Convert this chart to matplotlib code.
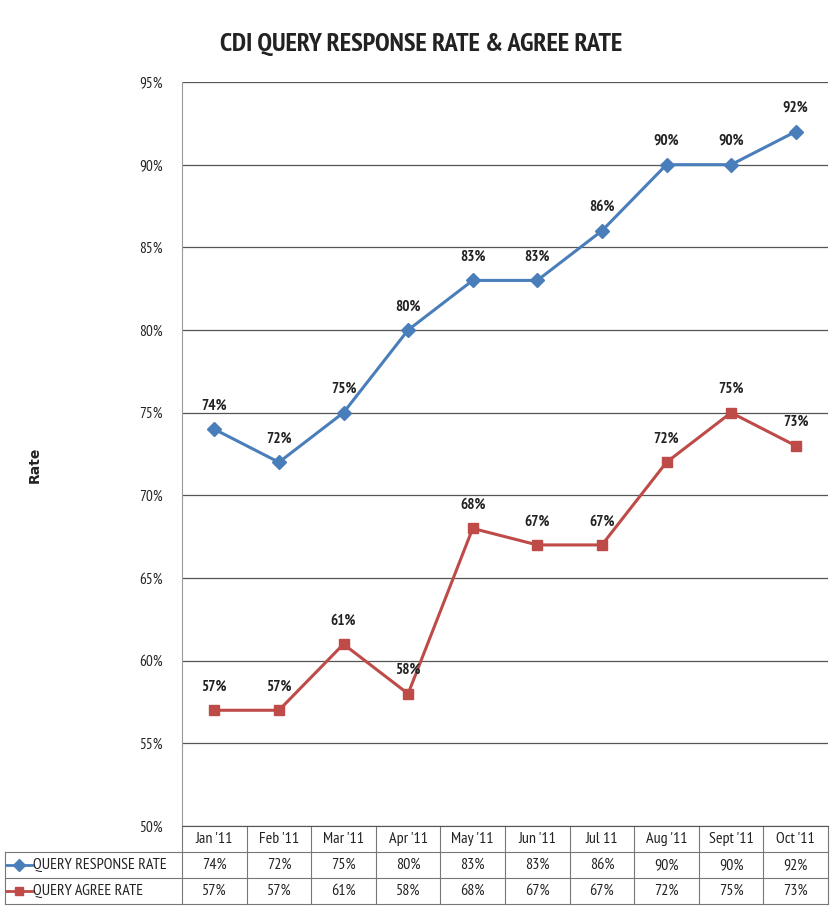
import matplotlib
matplotlib.use("Agg")
import matplotlib.pyplot as plt
from matplotlib import font_manager
from matplotlib.lines import Line2D

months = ["Jan '11", "Feb '11", "Mar '11", "Apr '11", "May '11", "Jun '11",
          "Jul 11", "Aug '11", "Sept '11", "Oct '11"]
response_rate = [74, 72, 75, 80, 83, 83, 86, 90, 90, 92]
agree_rate = [57, 57, 61, 58, 68, 67, 67, 72, 75, 73]
series_names = ["QUERY RESPONSE RATE", "QUERY AGREE RATE"]
y_ticks = [50, 55, 60, 65, 70, 75, 80, 85, 90, 95]

names = {f.name for f in font_manager.fontManager.ttflist}
narrow = next((n for n in ["PT Sans Narrow", "Archivo Narrow", "Roboto Condensed"] if n in names),
              "DejaVu Sans")
plt.rcParams['font.family'] = [narrow, 'DejaVu Sans']

blue = "#4a7ebb"
red = "#be4b48"
txt = "#222222"

fig = plt.figure(figsize=(8.33, 9.17), dpi=100)
ax = fig.add_axes([182 / 833, 1 - 826 / 917, 646 / 833, 744 / 917])

x = list(range(len(months)))
ax.plot(x, response_rate, color=blue, lw=2.2, marker="D", ms=7, label=series_names[0])
ax.plot(x, agree_rate, color=red, lw=2.2, marker="s", ms=7, label=series_names[1])

for series in [response_rate, agree_rate]:
    for i, v in enumerate(series):
        ax.annotate(f"{v}%", (i, v), xytext=(0, 12), textcoords="offset points",
                    ha="center", va="bottom", fontsize=11, fontweight="bold", color=txt)

ax.set_xlim(-0.5, len(months) - 0.5)
ax.set_ylim(50, 95)
ax.set_yticks(y_ticks)
ax.set_yticklabels([f"{t}%" for t in y_ticks], fontsize=11, color=txt)
ax.set_xticks([])
ax.tick_params(axis="y", length=0, pad=14)
ax.grid(axis="y", color="#555555", lw=0.9)
ax.set_axisbelow(True)
for s in ["top", "right"]:
    ax.spines[s].set_visible(False)
ax.spines["left"].set_color("#999999")
ax.spines["bottom"].set_color("#555555")

fig.text(35 / 833, 1 - 465 / 917, "Rate", rotation=90, ha="center", va="center",
         fontsize=10, fontweight="bold", family="DejaVu Sans", color=txt)
fig.text(421 / 833, 1 - 44 / 917, "CDI QUERY RESPONSE RATE & AGREE RATE", ha="center",
         va="center", fontsize=19, fontweight="bold", color=txt)

# data table under the axes
row_h = 26 / 744
rows = [response_rate, agree_rate]
lc = "#777777"
left_edge = -0.5 - 177 / 64.6
trans = ax.get_xaxis_transform()
for k in range(len(months) + 1):
    ax.add_line(Line2D([k - 0.5, k - 0.5], [0, -3 * row_h], transform=trans,
                       color=lc, lw=0.8, clip_on=False))
for r in range(1, 4):
    ax.add_line(Line2D([left_edge, len(months) - 0.5], [-r * row_h, -r * row_h],
                       transform=trans, color=lc, lw=0.8, clip_on=False))
ax.add_line(Line2D([left_edge, left_edge], [-row_h, -3 * row_h], transform=trans,
                   color=lc, lw=0.8, clip_on=False))
for i, m in enumerate(months):
    ax.text(i, -0.5 * row_h, m, transform=trans, ha="center", va="center",
            fontsize=11.5, color=txt)
    for r, vals in enumerate(rows):
        ax.text(i, -(r + 1.5) * row_h, f"{vals[i]}%", transform=trans,
                ha="center", va="center", fontsize=11.5, color=txt)
for r, (name, col, mk) in enumerate(zip(series_names, [blue, red], ["D", "s"])):
    yy = -(r + 1.5) * row_h
    x0 = left_edge + 0.02
    ax.add_line(Line2D([x0, x0 + 0.4], [yy, yy], transform=trans, color=col, lw=2,
                       clip_on=False))
    ax.plot([x0 + 0.2], [yy], transform=trans, marker=mk, color=col,
            ms=6, clip_on=False)
    ax.text(x0 + 0.42, yy, name, transform=trans, ha="left", va="center",
            fontsize=11.5, color=txt)

fig.savefig("out.png", dpi=100, facecolor="white")
